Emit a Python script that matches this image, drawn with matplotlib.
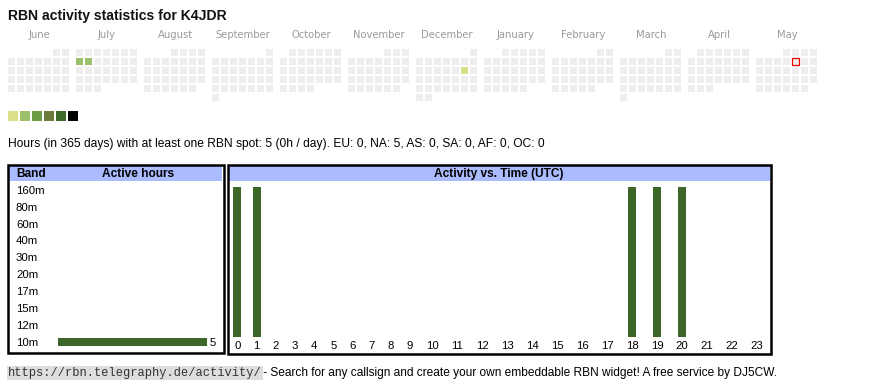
import datetime as dt
import matplotlib
matplotlib.use('Agg')
import matplotlib.pyplot as plt
from matplotlib.patches import Rectangle
from matplotlib import transforms

callsign = 'K4JDR'
months = ['June', 'July', 'August', 'September', 'October', 'November', 'December',
          'January', 'February', 'March', 'April', 'May']
start_day = dt.date(2024, 6, 1)
end_day = dt.date(2025, 5, 31)
today = dt.date(2025, 5, 9)
active_dates = [dt.date(2024, 7, 8), dt.date(2024, 7, 9), dt.date(2024, 12, 14)]
active_levels = [2, 2, 1]
level_colors = ['#d9e088', '#9dc16a', '#6a9e45', '#6a7b3b', '#3d6a2a', '#000000']

bands = ['160m', '80m', '60m', '40m', '30m', '20m', '17m', '15m', '12m', '10m']
band_hours = [0, 0, 0, 0, 0, 0, 0, 0, 0, 5]
hours = list(range(24))
hour_activity = [1, 1, 0, 0, 0, 0, 0, 0, 0, 0, 0, 0, 0, 0, 0, 0, 0, 0, 1, 1, 1, 0, 0, 0]
summary = ('Hours (in 365 days) with at least one RBN spot: 5 (0h / day). '
           'EU: 0, NA: 5, AS: 0, SA: 0, AF: 0, OC: 0')

SANS = 'Liberation Sans'
BAR = '#3d6629'
HEAD = '#aabbff'
W, H = 870, 390

fig = plt.figure(figsize=(W / 100, H / 100), dpi=100)
pax = fig.add_axes([0, 0, 1, 1])
pax.set_xlim(0, W)
pax.set_ylim(H, 0)
pax.axis('off')


def px_axes(x0, y0, x1, y1):
    a = fig.add_axes([x0 / W, 1 - y1 / H, (x1 - x0) / W, (y1 - y0) / H])
    a.axis('off')
    a.patch.set_alpha(0)
    return a


# title
pax.text(8, 20, 'RBN activity statistics for ' + callsign, family=SANS,
         weight='bold', size=10.1, color='#111111', va='baseline')

# calendar
levels = dict(zip(active_dates, active_levels))
d = start_day
while d <= end_day:
    m = (d.year - start_day.year) * 12 + d.month - start_day.month
    first_wd = d.replace(day=1).weekday()
    row = (d.day - 1 + first_wd) // 7
    x = 8 + 68 * m + 9 * d.weekday()
    y = 49 + 9 * row
    fc = level_colors[levels[d] - 1] if d in levels else '#eeeeee'
    ec = '#ee0000' if d == today else 'none'
    pax.add_patch(Rectangle((x, y), 7, 7, facecolor=fc, edgecolor=ec, lw=0.9))
    d += dt.timedelta(days=1)

for m, name in enumerate(months):
    pax.text(8 + 68 * m + 31, 38.5, name, family='DejaVu Sans', size=7.2,
             color='#9a9a9a', ha='center', va='baseline')

for i, c in enumerate(level_colors):
    pax.add_patch(Rectangle((8 + 12 * i, 111), 10, 10, facecolor=c, edgecolor='none'))

pax.text(8, 146.7, summary, family=SANS, size=8.65, color='#000000', va='baseline')

# boxes
lw = 1.8
pax.add_patch(Rectangle((9.5, 165.7), 213, 15, facecolor=HEAD, edgecolor='none'))
pax.add_patch(Rectangle((229, 165.7), 541, 15, facecolor=HEAD, edgecolor='none'))
pax.add_patch(Rectangle((8.5, 164.5), 215.5, 188.3, facecolor='none', edgecolor='black', lw=lw))
pax.add_patch(Rectangle((227.7, 164.5), 543.3, 189.3, facecolor='none', edgecolor='black', lw=lw))
pax.text(16, 176.8, 'Band', family=SANS, weight='bold', size=8.6, va='baseline')
pax.text(138, 176.8, 'Active hours', family=SANS, weight='bold', size=8.6,
         ha='center', va='baseline')
pax.text(499, 176.8, 'Activity vs. Time (UTC)', family=SANS, weight='bold', size=8.6,
         ha='center', va='baseline')

# band chart
for i, b in enumerate(bands):
    pax.text(16, 193.7 + 16.9 * i, b, family=SANS, size=8.2, va='baseline')
bax = px_axes(58, 181.55, 207, 350.45)
bax.barh(range(len(bands)), band_hours, height=0.44, color=BAR)
bax.set_xlim(0, max(band_hours))
bax.set_ylim(len(bands) - 0.5, -0.5)
for i, v in enumerate(band_hours):
    if v:
        bax.annotate(str(v), (v, i), xytext=(3, -3.7), textcoords='offset pixels',
                     family=SANS, size=8.2, va='baseline', annotation_clip=False)

# hour chart
widths = [19.2 if h < 10 else 25.0 for h in hours]
centers = []
acc = 0
for w in widths:
    centers.append(acc + w / 2)
    acc += w
hax = px_axes(227.7, 186.7, 227.7 + acc, 336.7)
hax.bar(centers, hour_activity, width=8, color=BAR)
hax.set_xlim(0, acc)
hax.set_ylim(0, max(hour_activity))
tr = transforms.blended_transform_factory(hax.transData, pax.transData)
for c, h in zip(centers, hours):
    pax.text(c, 349.3, str(h), transform=tr, family=SANS, size=8.2,
             ha='center', va='baseline')

# footer
pax.text(8, 375.7, 'https://rbn.telegraphy.de/activity/', family='Liberation Mono',
         size=8.62, color='#333333', va='baseline',
         bbox=dict(facecolor='#dddddd', edgecolor='none', pad=0.6))
pax.text(260, 375.7, ' - Search for any callsign and create your own embeddable RBN widget! '
         'A free service by DJ5CW.', family=SANS, size=8.6, va='baseline')

fig.savefig('out.png', dpi=100)
